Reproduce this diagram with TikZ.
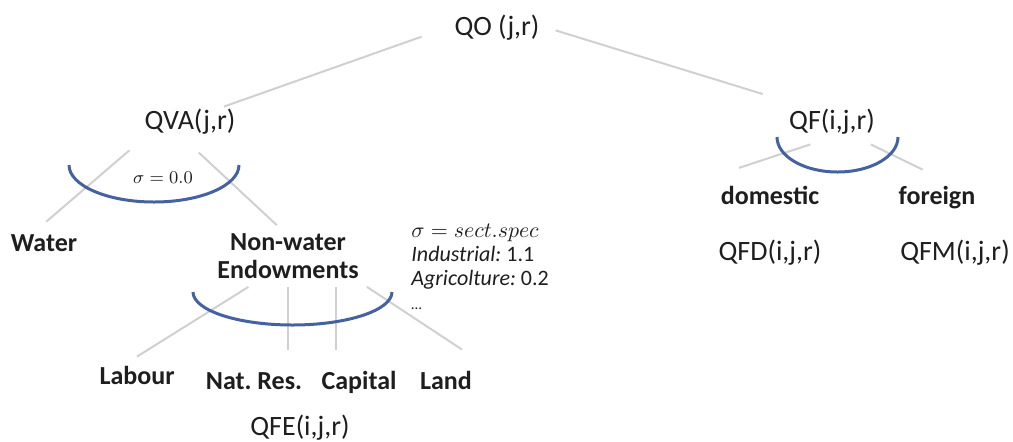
\documentclass[tikz,border=0pt]{standalone}
\usepackage{fontspec}
\setmainfont{Carlito}
\usetikzlibrary{calc}

\definecolor{cesblue}{RGB}{68,98,160}
\definecolor{linkgray}{RGB}{208,208,208}
\definecolor{labelink}{RGB}{30,30,30}

\begin{document}
\frenchspacing
\begin{tikzpicture}[
    x=0.5pt, y=-0.5pt,
    qty/.style={inner sep=4pt, text height=10.5pt, text depth=3.5pt, font=\fontsize{14}{16}\selectfont, text=labelink},
    nest/.style={inner sep=4pt, text height=9.75pt, text depth=3.25pt, font=\fontsize{13}{14}\selectfont\bfseries, text=labelink},
    nestpair/.style={inner sep=4pt, align=center, font=\fontsize{13}{14}\selectfont\bfseries, text=labelink},
    note/.style={inner sep=0pt, align=left, font=\fontsize{11}{12}\selectfont, text=labelink},
    link/.style={draw=linkgray, line width=1pt},
    cesarc/.style={draw=cesblue, line width=1.5pt}
  ]
    \useasboundingbox (0,0) rectangle (1013,441);

    % output and the two nests under it
    \node[qty] (qo) at (497,28) {QO (j,r)};
    \node[qty] (qva) at (190,122) {QVA(j,r)};
    \node[qty] (qf) at (832,122) {QF(i,j,r)};

    % value added side
    \node[nest] (water) at (44,245) {Water};
    \node[nestpair] (nonwater) at (288,256) {Non-water\\Endowments};
    \node[nest] (labour) at (137,378) {Labour};
    \node[nest] (natres) at (254,383) {Nat.\ Res.};
    \node[nest] (capital) at (359,383) {Capital};
    \node[nest] (land) at (446,383) {Land};
    \node[qty] (qfe) at (300,428) {QFE(i,j,r)};

    % intermediate inputs side
    \node[nest] (domestic) at (770,198) {domestic};
    \node[nest] (foreign) at (937,198) {foreign};
    \node[qty] (qfd) at (770,253) {QFD(i,j,r)};
    \node[qty] (qfm) at (955,253) {QFM(i,j,r)};

    % elasticities
    \node[note, font=\fontsize{9.5}{11}\selectfont] (sigmava) at (163,178) {$\sigma = 0.0$};
    \node[note, anchor=north west] (sigmane) at (411,224) {$\sigma = sect.spec$\\\textit{Industrial:} 1.1\\\textit{Agricolture:} 0.2\\{\fontsize{7.5}{9}\selectfont\dots}};

    \draw[link, shorten <=13pt, shorten >=-10.5pt] (qo.west) -- (qva.north east);
    \draw[link, shorten <=4pt, shorten >=9.5pt] (qo.east) -- (qf.north west);
    \draw[link, shorten <=4.5pt, shorten >=1.5pt] (qva.south west) -- (water.north);
    \draw[link, shorten <=6pt] (qva.south) -- (nonwater.110);
    \draw[link] (nonwater.218) -- (labour.north);
    \draw[link, shorten >=6pt] (nonwater.south) -- (nonwater.south |- natres.north);
    \draw[link, shorten >=6pt] (nonwater.327) -- (nonwater.327 |- capital.north);
    \draw[link, shorten >=11pt] (nonwater.south east) -- (land.north east);
    \draw[link, shorten >=14pt] (qf.226) -- (domestic.north west);
    \draw[link, shorten >=8pt] (qf.330) -- (foreign.north);

    \draw[cesarc] (69,165) arc[start angle=180, end angle=360, x radius=42.5pt, y radius=18.5pt];
    \draw[cesarc] (193,292) arc[start angle=180, end angle=360, x radius=49.75pt, y radius=16.5pt];
    \draw[cesarc] (777,137) arc[start angle=180, end angle=360, x radius=30.25pt, y radius=17.5pt];
  \end{tikzpicture}
\end{document}
